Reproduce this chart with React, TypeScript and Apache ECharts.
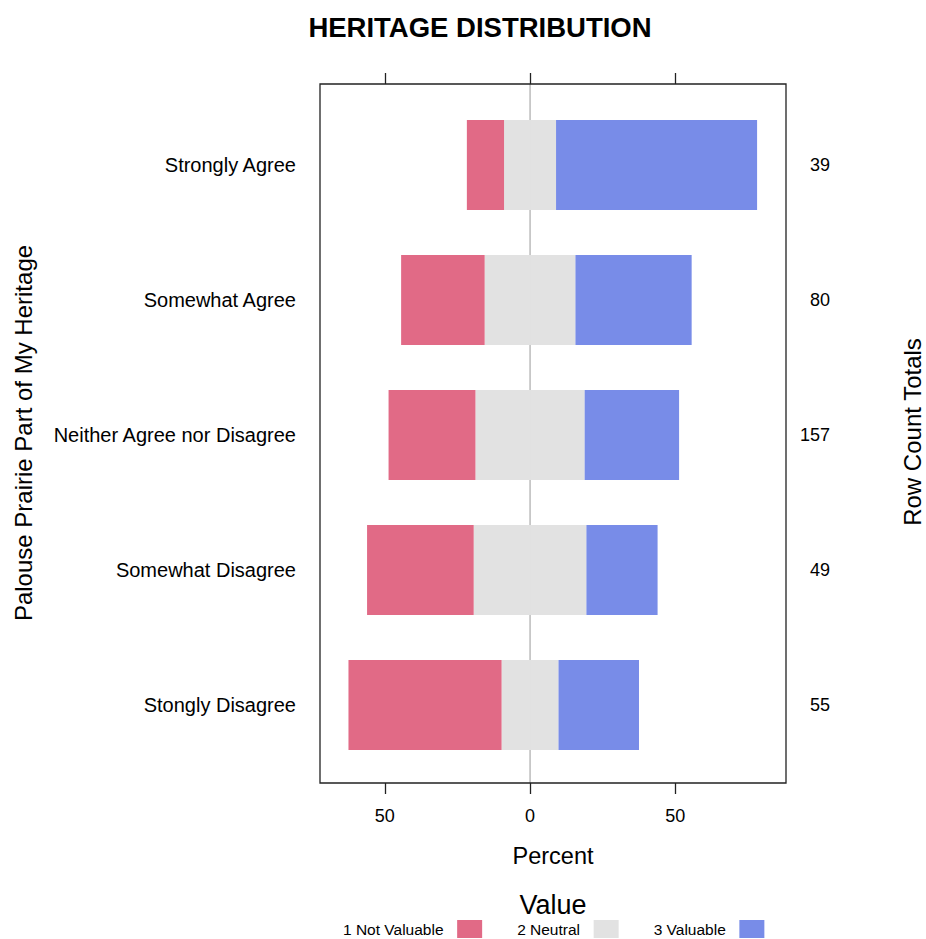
import React, { useEffect, useRef } from "react";
import * as echarts from "echarts";

const categories = ["Strongly Agree", "Somewhat Agree", "Neither Agree nor Disagree", "Somewhat Disagree", "Stongly Disagree"];
const rowTotals = ["39", "80", "157", "49", "55"];
const notValuable = [12.8, 28.75, 29.9, 36.7, 52.7];
const neutral = [17.9, 31.25, 37.6, 38.8, 19.6];
const valuable = [69.2, 40.0, 32.5, 24.5, 27.7];
const tickValues = [-50, 0, 50];

const FONT = "Liberation Sans, Arial, Helvetica, sans-serif";
const RED = "#E16A86";
const GREY = "#E2E2E2";
const BLUE = "#788CE8";

export default function App() {
  const ref = useRef<HTMLDivElement>(null);
  useEffect(() => {
    document.body.style.margin = "0";
    const chart = echarts.init(ref.current!, null, { renderer: "svg" });
    const xMin = -72.3;
    const xMax = 88.1;
    const box = { l: 320, t: 84, r: 786, b: 783 };
    const baseGraphic: any[] = [
      {
        type: "text", x: 480, y: 27,
        style: { text: "HERITAGE DISTRIBUTION", font: `bold 27.5px ${FONT}`, fill: "#000", align: "center", verticalAlign: "middle" },
      },
      {
        type: "rect", shape: { x: box.l, y: box.t, width: box.r - box.l, height: box.b - box.t },
        style: { fill: "none", stroke: "#222", lineWidth: 1.3 }, z: 10,
      },
      {
        type: "text", x: 553, y: 856,
        style: { text: "Percent", font: `23.5px ${FONT}`, fill: "#000", align: "center", verticalAlign: "middle" },
      },
      {
        type: "text", x: 553, y: 905,
        style: { text: "Value", font: `27px ${FONT}`, fill: "#000", align: "center", verticalAlign: "middle" },
      },
      {
        type: "text", x: 23, y: 433, rotation: Math.PI / 2,
        style: { text: "Palouse Prairie Part of My Heritage", font: `24px ${FONT}`, fill: "#000", align: "center", verticalAlign: "middle" },
      },
      {
        type: "text", x: 912, y: 432, rotation: Math.PI / 2,
        style: { text: "Row Count Totals", font: `24px ${FONT}`, fill: "#000", align: "center", verticalAlign: "middle" },
      },
    ];
    const option: any = {
      animation: false,
      backgroundColor: "#fff",
      textStyle: { fontFamily: FONT },
      grid: { left: box.l, right: 926 - box.r, top: 97.5, bottom: 939 - 772.5, containLabel: false },
      legend: {
        data: ["1 Not Valuable", "2 Neutral", "3 Valuable"],
        left: 343, top: 920, padding: 0,
        align: "right",
        itemWidth: 25, itemHeight: 18, itemGap: 35,
        icon: "rect",
        formatter: (n: string) => n + "  ",
        textStyle: { fontSize: 15.5, color: "#000", fontFamily: FONT },
        selectedMode: false,
      },
      xAxis: [
        {
          type: "value", position: "bottom", min: xMin, max: xMax, offset: 10.5,
          axisLine: { show: false },
          splitLine: { show: false },
          axisTick: { show: true, length: 11, customValues: tickValues, lineStyle: { color: "#222", width: 1.3 } },
          axisLabel: {
            customValues: tickValues, margin: 24, fontSize: 18, color: "#000", fontFamily: FONT,
            formatter: (v: number) => String(Math.abs(v)),
          },
        },
        {
          type: "value", position: "top", min: xMin, max: xMax, offset: 13.5,
          axisLine: { show: false },
          splitLine: { show: false },
          axisTick: { show: true, length: 11, customValues: tickValues, lineStyle: { color: "#222", width: 1.3 } },
          axisLabel: { show: false },
        },
      ],
      yAxis: [
        {
          type: "category", data: categories, inverse: true, position: "left",
          axisLine: { show: false }, axisTick: { show: false },
          axisLabel: { margin: 24, fontSize: 20, color: "#000", fontFamily: FONT },
        },
        {
          type: "category", data: rowTotals, inverse: true, position: "right",
          axisLine: { show: false }, axisTick: { show: false },
          axisLabel: { margin: 44, align: "right", fontSize: 18, color: "#000", fontFamily: FONT },
        },
      ],
      series: [
        {
          name: "2 Neutral", type: "bar", stack: "a", barWidth: 90, z: 2,
          itemStyle: { color: GREY }, data: neutral.map((v) => -v / 2),
        },
        {
          name: "2 Neutral", type: "bar", stack: "a", barWidth: 90, z: 2,
          itemStyle: { color: GREY }, data: neutral.map((v) => v / 2),
        },
        {
          name: "1 Not Valuable", type: "bar", stack: "a", barWidth: 90, z: 2,
          itemStyle: { color: RED }, data: notValuable.map((v) => -v),
        },
        {
          name: "3 Valuable", type: "bar", stack: "a", barWidth: 90, z: 2,
          itemStyle: { color: BLUE }, data: valuable,
        },
      ],
      graphic: baseGraphic,
    };
    chart.setOption(option);
    const x0 = chart.convertToPixel({ xAxisIndex: 0 }, 0) as number;
    chart.setOption({
      graphic: [
        ...baseGraphic,
        {
          type: "line", z: -1, zlevel: 0,
          shape: { x1: x0, y1: box.t, x2: x0, y2: box.b },
          style: { stroke: "#9a9a9a", lineWidth: 1 },
        },
      ],
    });
    return () => chart.dispose();
  }, []);
  return <div ref={ref} style={{ width: 926, height: 939 }} />;
}
